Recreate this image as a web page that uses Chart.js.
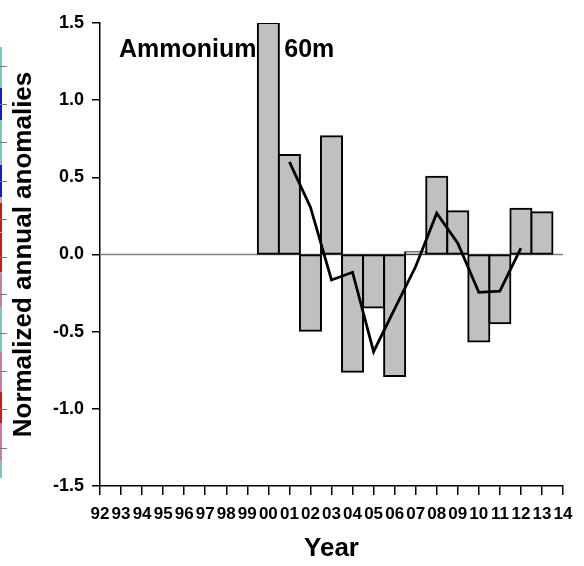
<!DOCTYPE html>
<html>
<head>
<meta charset="utf-8">
<script src="https://cdn.jsdelivr.net/npm/chart.js@4"></script>
<style>
  html, body { margin: 0; padding: 0; background: #ffffff; }
  #wrap { position: relative; width: 584px; height: 566px; }
  #c { position: absolute; left: 0; top: 0; }
  #strip { position: absolute; left: 0; top: 47px; width: 2px; height: 431px;
    background: linear-gradient(to bottom,
      #7cc4c4 0px, #7cc4c4 41px, #1818d0 41px, #1818d0 73px,
      #7cc4c4 73px, #7cc4c4 118px, #1818d0 118px, #1818d0 150px,
      #b0b0b0 150px, #b0b0b0 156px, #d01818 156px, #d01818 185px,
      #b0b0b0 185px, #b0b0b0 186px, #d01818 186px, #d01818 225px,
      #b0b0b0 225px, #b0b0b0 226px, #c87ca8 226px, #c87ca8 260px,
      #7cc4c4 260px, #7cc4c4 305px, #c87ca8 305px, #c87ca8 345px,
      #d01818 345px, #d01818 376px, #c87ca8 376px, #c87ca8 413px,
      #b0b0b0 413px, #b0b0b0 416px, #7cc4c4 416px, #7cc4c4 431px); }
  .stick { position: absolute; left: 0; width: 7px; height: 1px; background: #777; }
</style>
</head>
<body>
<div id="wrap">
  <canvas id="c" width="584" height="566"></canvas>
  <div id="strip"></div>
</div>
<script>
// ---- data ----
const yearLabels = ['92','93','94','95','96','97','98','99','00','01','02','03','04','05','06','07','08','09','10','11','12','13','14'];
const anomalies = [null,null,null,null,null,null,null,null,1.50,0.645,-0.494,0.766,-0.76,-0.344,-0.788,0.015,0.504,0.281,-0.563,-0.446,0.297,0.273,null];
const runningMean = [null,null,null,null,null,null,null,null,null,0.60,0.307,-0.165,-0.115,-0.63,-0.353,-0.078,0.268,0.074,-0.245,-0.238,0.041,null,null];
const yTicks = [-1.5,-1.0,-0.5,0.0,0.5,1.0,1.5];
const panelTitle = 'Ammonium \u2013 60m';
const yTitle = 'Normalized annual anomalies';
const xTitle = 'Year';
const stripTicks = [66,104,142,181,219,257,294,333,371,409,448];

// decorative edge ticks
const wrap = document.getElementById('wrap');
stripTicks.forEach(function (t) {
  const d = document.createElement('div');
  d.className = 'stick';
  d.style.top = t + 'px';
  wrap.appendChild(d);
});

const FONT = '"Liberation Sans", Arial, Helvetica, sans-serif';

const underlay = {
  id: 'underlay',
  beforeDatasetsDraw(chart) {
    const ctx = chart.ctx;
    const ca = chart.chartArea;
    const y0 = chart.scales.y.getPixelForValue(0);
    ctx.save();
    ctx.strokeStyle = '#808080';
    ctx.lineWidth = 1.5;
    ctx.beginPath();
    ctx.moveTo(ca.left, y0);
    ctx.lineTo(ca.right, y0);
    ctx.stroke();
    ctx.fillStyle = '#000';
    ctx.font = 'bold 25px ' + FONT;
    ctx.textBaseline = 'alphabetic';
    ctx.textAlign = 'left';
    ctx.fillText(panelTitle, ca.left + 19, ca.top + 34);
    ctx.restore();
  }
};

new Chart(document.getElementById('c'), {
  type: 'bar',
  data: {
    labels: yearLabels,
    datasets: [
      {
        type: 'line',
        data: runningMean,
        borderColor: '#000',
        borderWidth: 2.8,
        pointRadius: 0,
        tension: 0,
        spanGaps: false,
        order: 0
      },
      {
        type: 'bar',
        data: anomalies,
        backgroundColor: '#c0c0c0',
        borderColor: '#000',
        borderWidth: 2,
        borderSkipped: false,
        inflateAmount: 1,
        barPercentage: 1,
        categoryPercentage: 1,
        order: 1
      }
    ]
  },
  options: {
    responsive: false,
    devicePixelRatio: 1,
    animation: false,
    layout: { padding: { top: 23, right: 21, left: 0, bottom: 0 } },
    plugins: { legend: { display: false }, tooltip: { enabled: false } },
    scales: {
      x: {
        type: 'category',
        offset: false,
        grid: { offset: false, drawOnChartArea: false, tickLength: 9, color: '#000', lineWidth: 1.5 },
        border: { color: '#000', width: 1.5 },
        ticks: { autoSkip: false, maxRotation: 0, minRotation: 0, color: '#000', padding: 9,
                 font: { family: FONT, size: 17, weight: 'bold' } },
        title: { display: true, text: xTitle, color: '#000', padding: { top: 0, bottom: 2 },
                 font: { family: FONT, size: 26, weight: 'bold' } },
        afterFit(s) { s.height = 80; }
      },
      y: {
        min: -1.5, max: 1.5,
        afterBuildTicks(s) { s.ticks = yTicks.map(v => ({ value: v })); },
        grid: { drawOnChartArea: false, tickLength: 8, color: '#000', lineWidth: 1.5 },
        border: { color: '#000', width: 1.5 },
        ticks: { color: '#000', padding: 8, callback: v => Number(v).toFixed(1),
                 font: { family: FONT, size: 18, weight: 'bold' } },
        title: { display: true, text: yTitle, color: '#000', padding: { top: 8, bottom: 0 },
                 font: { family: FONT, size: 26, weight: 'bold' } },
        afterFit(s) { s.width = 100; }
      }
    }
  },
  plugins: [underlay]
});
</script>
</body>
</html>
